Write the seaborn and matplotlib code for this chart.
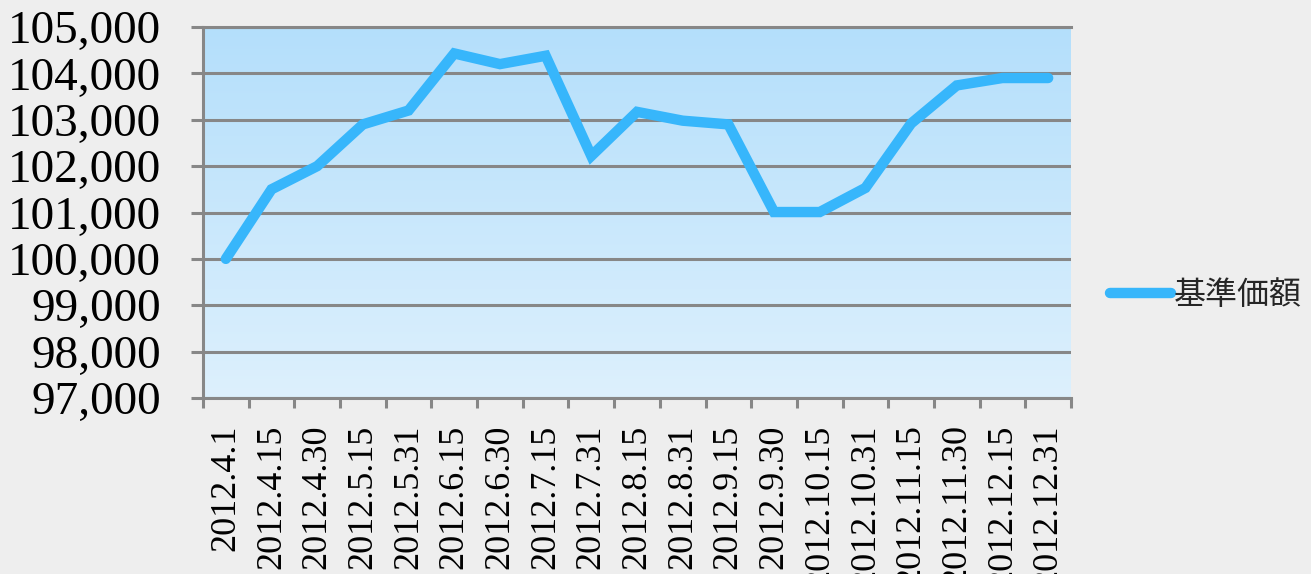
import matplotlib
matplotlib.use("Agg")
import matplotlib.pyplot as plt
import numpy as np
import pandas as pd
import seaborn as sns
from matplotlib.colors import LinearSegmentedColormap
from matplotlib.ticker import FixedLocator, FuncFormatter

# data
dates = ["2012.4.1", "2012.4.15", "2012.4.30", "2012.5.15", "2012.5.31",
         "2012.6.15", "2012.6.30", "2012.7.15", "2012.7.31", "2012.8.15",
         "2012.8.31", "2012.9.15", "2012.9.30", "2012.10.15", "2012.10.31",
         "2012.11.15", "2012.11.30", "2012.12.15", "2012.12.31"]
nav = [100000, 101500, 102000, 102900, 103200,
       104430, 104200, 104380, 102220, 103170,
       102980, 102900, 101010, 101010, 101530,
       102920, 103740, 103900, 103900]
series_name = "基準価額"
y_ticks = [97000, 98000, 99000, 100000, 101000, 102000, 103000, 104000, 105000]

df = pd.DataFrame({"date": dates, "value": nav})

sns.set_style("ticks")
plt.rcParams["font.family"] = ["Liberation Serif", "Noto Sans CJK JP", "DejaVu Sans"]

grey = "#878787"
line_color = "#37B6FB"

fig = plt.figure(figsize=(13.11, 5.74), dpi=100, facecolor="#EEEEEE")
ax = fig.add_axes([203 / 1311, 1 - 398 / 574, (1071 - 203) / 1311, (398 - 27) / 574])
ax.set_facecolor("none")

# gradient plot area
grad = np.linspace(0, 1, 256).reshape(-1, 1)
cmap = LinearSegmentedColormap.from_list("bg", ["#B4DFFB", "#DDF0FD"])
ax.imshow(grad, cmap=cmap, aspect="auto", extent=(0, 1, 0, 1),
          transform=ax.transAxes, zorder=0)

sns.lineplot(data=df, x="date", y="value", ax=ax, color=line_color,
             linewidth=7.5, label=series_name, sort=False, zorder=5,
             solid_capstyle="round", solid_joinstyle="miter")

ax.set_xlim(-0.5, len(dates) - 0.5)
ax.set_ylim(y_ticks[0], y_ticks[-1])
ax.set_yticks(y_ticks)
ax.yaxis.set_major_formatter(FuncFormatter(lambda v, p: f"{v:,.0f}"))
ax.set_xticks(range(len(dates)))
ax.set_xticklabels(dates, rotation=90, va="top", ha="center")
ax.xaxis.set_minor_locator(FixedLocator(np.arange(-0.5, len(dates), 1)))

ax.set_xlabel("")
ax.set_ylabel("")

ax.grid(axis="y", color=grey, linewidth=2.2, zorder=1)
ax.set_axisbelow(True)
ax.spines["right"].set_visible(False)
for s in ["left", "bottom", "top"]:
    ax.spines[s].set_color(grey)
    ax.spines[s].set_linewidth(2.2)

ax.tick_params(axis="y", which="major", direction="out", length=9, width=2.2,
               color=grey, labelsize=34, pad=21, labelcolor="black")
ax.tick_params(axis="x", which="major", length=0, labelsize=26, pad=19,
               labelcolor="black")
ax.tick_params(axis="x", which="minor", direction="out", length=7, width=2.2,
               color=grey)

ax.legend(loc="center left", bbox_to_anchor=(1110 / 1311, 1 - 295 / 574),
          bbox_transform=fig.transFigure, frameon=False,
          handlelength=1.9, handletextpad=0.1, borderpad=0, borderaxespad=0,
          prop={"family": ["Noto Sans CJK JP"], "size": 23})

fig.savefig("out.png", dpi=100, facecolor=fig.get_facecolor())
